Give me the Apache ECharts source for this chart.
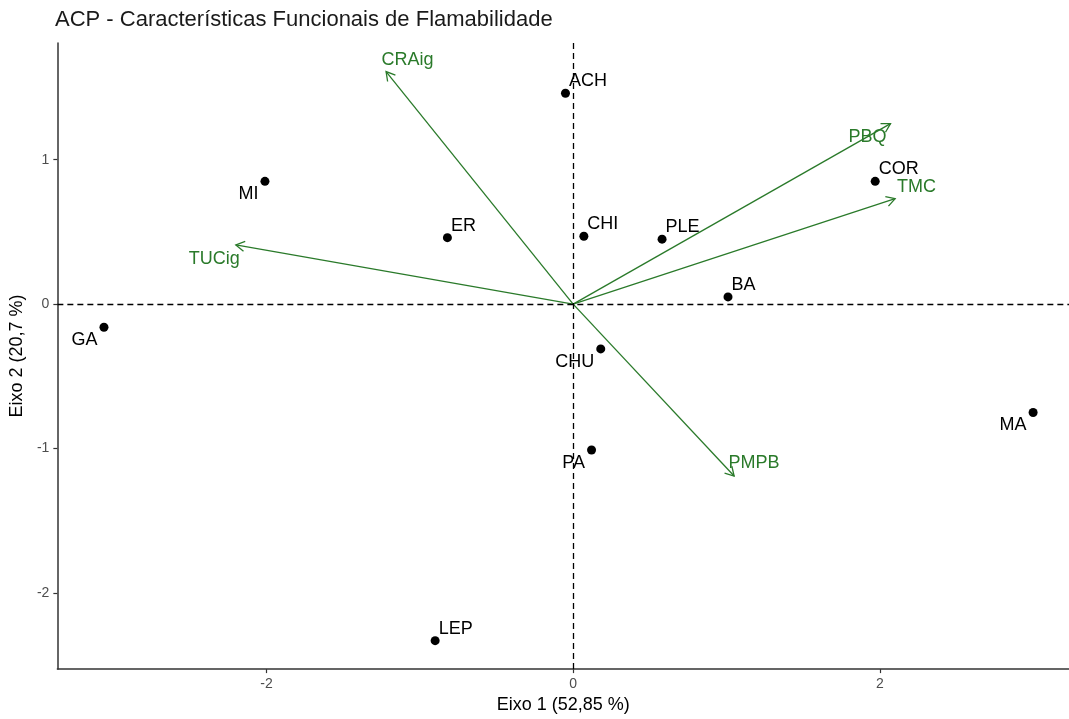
<!DOCTYPE html>
<html>
<head>
<meta charset="utf-8">
<script src="https://cdn.jsdelivr.net/npm/echarts@6/dist/echarts.min.js"></script>
<style>html,body{margin:0;padding:0;background:#fff;overflow:hidden;}#c{width:1069px;height:719px;}</style>
</head>
<body>
<div id="c"></div>
<script>
// Sites (individuals)
const sites = ['ACH','MI','ER','CHI','PLE','BA','COR','GA','CHU','PA','MA','LEP'];
const siteX = [-0.05,-2.01,-0.82,0.07,0.58,1.01,1.97,-3.06,0.18,0.12,3.00,-0.90];
const siteY = [1.46,0.85,0.46,0.47,0.45,0.05,0.85,-0.16,-0.31,-1.01,-0.75,-2.33];
const siteLabelSide = ['ne','sw','ne','ne','ne','ne','ne','sw','sw','sw','sw','ne'];

// Variables (arrows)
const vars = ['CRAig','TUCig','PBQ','TMC','PMPB'];
const varX = [-1.22,-2.20,2.07,2.10,1.05];
const varY = [1.61,0.41,1.25,0.73,-1.19];
const varLabelX = [-1.08,-2.34,1.92,2.24,1.18];
const varLabelY = [1.69,0.31,1.16,0.81,-1.10];

// Axis ticks
const xTicks = [-2,0,2];
const yTicks = [-2,-1,0,1];

const FONT = 'Liberation Sans, Arial, sans-serif';
const GREEN = '#2a7a2a';

const chart = echarts.init(document.getElementById('c'), null, {renderer:'canvas'});

const siteData = sites.map((n,i)=>{
  const ne = siteLabelSide[i]==='ne';
  return {
    name:n, value:[siteX[i], siteY[i]],
    label: ne ? {position:'right', distance:0, offset:[-1,-12]}
              : {position:'left', distance:2, offset:[0,13]}
  };
});

const varData = vars.map((n,i)=>[varX[i], varY[i], varLabelX[i], varLabelY[i]]);

const option = {
  backgroundColor:'#fff',
  animation:false,
  title:{
    text:'ACP - Características Funcionais de Flamabilidade',
    left:55, top:9, padding:0,
    textStyle:{fontFamily:FONT, fontSize:22, fontWeight:'normal', color:'#1a1a1a'}
  },
  grid:{left:55, right:0, top:43, bottom:43, containLabel:false},
  xAxis:{
    type:'value', min:-3.364, max:3.234,
    name:'Eixo 1 (52,85 %)', nameLocation:'middle', nameGap:23,
    nameTextStyle:{fontFamily:FONT, fontSize:18, color:'#000'},
    axisLine:{show:true, onZero:false, lineStyle:{color:'#333', width:1.5}},
    axisTick:{show:true, length:4, customValues:xTicks, lineStyle:{color:'#333', width:1.2}},
    axisLabel:{customValues:xTicks, margin:8, fontFamily:FONT, fontSize:14, color:'#4d4d4d'},
    splitLine:{show:false}
  },
  yAxis:{
    type:'value', min:-2.527, max:1.808,
    name:'Eixo 2 (20,7 %)', nameLocation:'middle', nameGap:26,
    nameTextStyle:{fontFamily:FONT, fontSize:18, color:'#000'},
    axisLine:{show:true, onZero:false, lineStyle:{color:'#333', width:1.5}},
    axisTick:{show:true, length:4, customValues:yTicks, lineStyle:{color:'#333', width:1.2}},
    axisLabel:{customValues:yTicks, margin:8, fontFamily:FONT, fontSize:14, color:'#4d4d4d'},
    splitLine:{show:false}
  },
  series:[
    {
      type:'custom', name:'vars', z:2, clip:false,
      data:varData,
      renderItem:function(params, api){
        const o = api.coord([0,0]);
        const t = api.coord([api.value(0), api.value(1)]);
        const l = api.coord([api.value(2), api.value(3)]);
        const ang = Math.atan2(t[1]-o[1], t[0]-o[0]);
        const L = 10, A = Math.PI/6;
        const p1 = [t[0]-L*Math.cos(ang-A), t[1]-L*Math.sin(ang-A)];
        const p2 = [t[0]-L*Math.cos(ang+A), t[1]-L*Math.sin(ang+A)];
        return {type:'group', children:[
          {type:'line', shape:{x1:o[0], y1:o[1], x2:t[0], y2:t[1]}, style:{stroke:GREEN, lineWidth:1.3}},
          {type:'polyline', shape:{points:[p1, t, p2]}, style:{stroke:GREEN, fill:null, lineWidth:1.3}},
          {type:'text', style:{text:vars[params.dataIndex], x:l[0], y:l[1], align:'center', verticalAlign:'middle',
            fill:GREEN, font:'18px ' + FONT}}
        ]};
      },
      markLine:{
        silent:true, symbol:'none', animation:false,
        label:{show:false},
        lineStyle:{type:[6,4], color:'#000', width:1.3},
        data:[{xAxis:0},{yAxis:0}]
      }
    },
    {
      type:'scatter', name:'sites', z:5,
      symbol:'circle', symbolSize:9,
      itemStyle:{color:'#000', opacity:1},
      label:{show:true, formatter:'{b}', fontFamily:FONT, fontSize:18, color:'#000'},
      data:siteData
    }
  ]
};
chart.setOption(option);
</script>
</body>
</html>
